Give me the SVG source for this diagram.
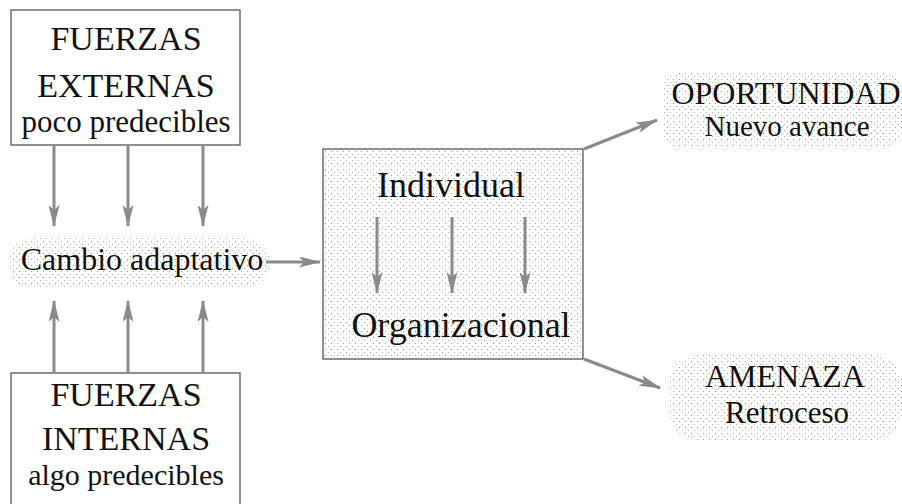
<svg xmlns="http://www.w3.org/2000/svg" width="902" height="504" viewBox="0 0 902 504">
<style>
text{fill:#111;text-anchor:middle}
.box{fill:#fff;stroke:#555;stroke-width:1.3}
.arr{stroke:#8a8a8a;stroke-width:3;fill:none;marker-end:url(#ah)}
.stip{fill:url(#dots)}
</style>
<defs>
<pattern id="dots" width="6" height="6" patternUnits="userSpaceOnUse">
<rect x="1" y="1" width="1" height="1" fill="#9a9a9a"/>
<rect x="4" y="4" width="1" height="1" fill="#b5b5b5"/>
</pattern>
<marker id="ah" viewBox="0 0 22 11" refX="21" refY="5.5" markerWidth="22" markerHeight="11" markerUnits="userSpaceOnUse" orient="auto">
<path d="M0,0 L22,5.5 L0,11 L5,5.5 z" fill="#8a8a8a"/>
</marker>
</defs>
<g id="externas">
<rect class="box" x="11" y="10" width="229" height="135"/>
<text font-family="Liberation Serif" font-size="34" x="126" y="50">FUERZAS</text>
<text font-family="Liberation Serif" font-size="34" x="126" y="97">EXTERNAS</text>
<text font-family="Liberation Serif" font-size="31" x="126" y="132">poco predecibles</text>
</g>
<g id="internas">
<rect class="box" x="11" y="373" width="229" height="140"/>
<text font-family="Liberation Serif" font-size="34" x="126" y="406">FUERZAS</text>
<text font-family="Liberation Serif" font-size="34" x="126" y="450">INTERNAS</text>
<text font-family="Liberation Serif" font-size="30" x="126" y="485">algo predecibles</text>
</g>
<g id="cambio">
<rect class="stip" x="8" y="238" width="262" height="50" rx="25"/>
<text font-family="Liberation Serif" font-size="32" x="142" y="270">Cambio adaptativo</text>
</g>
<g id="central">
<rect class="box" x="323" y="149" width="260" height="210"/>
<rect class="stip" x="325" y="151" width="256" height="206"/>
<text font-family="Liberation Serif" font-size="36" x="451" y="197">Individual</text>
<text font-family="Liberation Serif" font-size="36" x="461" y="337">Organizacional</text>
</g>
<g id="oportunidad">
<rect class="stip" x="662" y="72" width="240" height="76" rx="20"/>
<text font-family="Liberation Serif" font-size="32" x="786" y="104">OPORTUNIDAD</text>
<text font-family="Liberation Serif" font-size="29" x="787" y="136">Nuevo avance</text>
</g>
<g id="amenaza">
<rect class="stip" x="668" y="355" width="234" height="85" rx="30"/>
<text font-family="Liberation Serif" font-size="32" x="785" y="387">AMENAZA</text>
<text font-family="Liberation Serif" font-size="31" x="787" y="423">Retroceso</text>
</g>
<g id="connectors">
<line class="arr" x1="54" y1="146" x2="54" y2="226"/>
<line class="arr" x1="128" y1="146" x2="128" y2="226"/>
<line class="arr" x1="203" y1="146" x2="203" y2="226"/>
<line class="arr" x1="54" y1="373" x2="54" y2="301"/>
<line class="arr" x1="128" y1="373" x2="128" y2="301"/>
<line class="arr" x1="203" y1="373" x2="203" y2="301"/>
<line class="arr" x1="266" y1="262" x2="320" y2="262"/>
<line class="arr" x1="377" y1="217" x2="377" y2="293"/>
<line class="arr" x1="452" y1="217" x2="452" y2="293"/>
<line class="arr" x1="525" y1="217" x2="525" y2="293"/>
<line class="arr" x1="584" y1="149" x2="657" y2="120"/>
<line class="arr" x1="584" y1="359" x2="660" y2="388"/>
</g>
</svg>
